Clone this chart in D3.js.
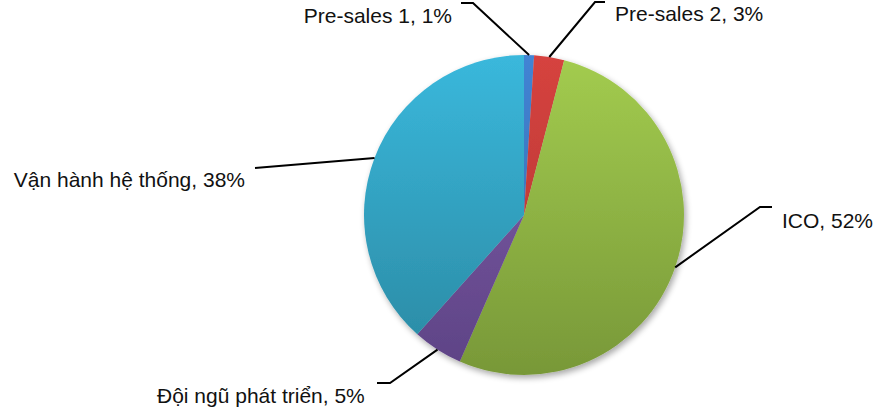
<!DOCTYPE html>
<html>
<head>
<meta charset="utf-8">
<script src="https://cdn.jsdelivr.net/npm/d3@7"></script>
<style>
  body { margin: 0; background: #fff; }
  text { font-family: "Liberation Sans", Arial, sans-serif; font-size: 21px; fill: #111; }
</style>
</head>
<body>
<script>
// data
var categories = ["Pre-sales 1", "Pre-sales 2", "ICO", "Đội ngũ phát triển", "Vận hành hệ thống"];
var values = [1, 3, 52, 5, 38];
var labels = ["Pre-sales 1, 1%", "Pre-sales 2, 3%", "ICO, 52%", "Đội ngũ phát triển, 5%", "Vận hành hệ thống, 38%"];
var topColors = ["#4284d4", "#d6433f", "#a3cc4f", "#8362ab", "#3ab8dc"];
var bottomColors = ["#3468a8", "#ad3330", "#789838", "#5d4285", "#2a88a1"];

var svgWidth = 876, svgHeight = 410;
var cx = 524, cy = 215, radius = 160;

var svg = d3.select("body").append("svg")
  .attr("width", svgWidth)
  .attr("height", svgHeight);

var defs = svg.append("defs");

// soft shadow
var shadow = defs.append("filter").attr("id", "shadow")
  .attr("x", "-20%").attr("y", "-20%").attr("width", "140%").attr("height", "140%");
shadow.append("feGaussianBlur").attr("in", "SourceAlpha").attr("stdDeviation", 3);
shadow.append("feOffset").attr("dx", 2).attr("dy", 3).attr("result", "blur");
shadow.append("feComponentTransfer").append("feFuncA").attr("type", "linear").attr("slope", 0.35);
var merge = shadow.append("feMerge");
merge.append("feMergeNode");
merge.append("feMergeNode").attr("in", "SourceGraphic");

categories.forEach(function(c, i) {
  var g = defs.append("linearGradient")
    .attr("id", "grad" + i)
    .attr("gradientUnits", "userSpaceOnUse")
    .attr("x1", 0).attr("y1", -radius)
    .attr("x2", 0).attr("y2", radius);
  g.append("stop").attr("offset", "0%").attr("stop-color", topColors[i]);
  g.append("stop").attr("offset", "100%").attr("stop-color", bottomColors[i]);
});

var pie = d3.pie().sort(null).value(function(d) { return d; });
var arcs = pie(values);

var arc = d3.arc().innerRadius(0).outerRadius(radius);

var chart = svg.append("g")
  .attr("transform", `translate(${cx}, ${cy})`);

var slices = chart.append("g").attr("filter", "url(#shadow)");
slices.selectAll("path")
  .data(arcs)
  .enter()
  .append("path")
  .attr("d", arc)
  .attr("fill", function(d, i) { return "url(#grad" + i + ")"; })
  .attr("stroke", "none");

// leader lines: start on the rim at the slice middle, elbow, then short horizontal
var elbows = [[-51, -212], [71, -213], [236, -8], [-134, 168], [-269, -47]];
var tails = [-12, 10, 12, -13, 0];
var textPos = [[-72, -192], [91, -194], [349, 13], [-367, 188], [-279, -28]];
var anchors = ["end", "start", "end", "start", "end"];

chart.selectAll("polyline")
  .data(arcs)
  .enter()
  .append("polyline")
  .attr("points", function(d, i) {
    var mid = (d.startAngle + d.endAngle) / 2;
    var p0 = [Math.sin(mid) * radius, -Math.cos(mid) * radius];
    var p1 = elbows[i];
    var p2 = [p1[0] + tails[i], p1[1]];
    return [p0, p1, p2].map(function(p) { return p.join(","); }).join(" ");
  })
  .attr("fill", "none")
  .attr("stroke", "#000")
  .attr("stroke-width", 2);

chart.selectAll("text.lbl")
  .data(arcs)
  .enter()
  .append("text")
  .attr("class", "lbl")
  .attr("x", function(d, i) { return textPos[i][0]; })
  .attr("y", function(d, i) { return textPos[i][1]; })
  .attr("text-anchor", function(d, i) { return anchors[i]; })
  .text(function(d, i) { return labels[i]; });
</script>
</body>
</html>
